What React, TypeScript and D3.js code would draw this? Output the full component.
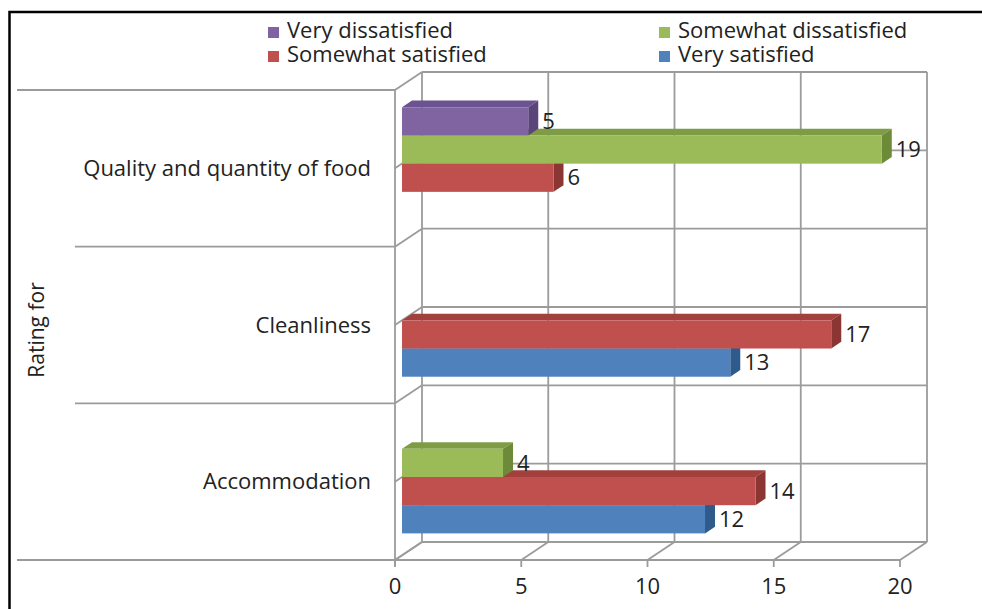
import React from "react";
import * as d3 from "d3";

// Survey results: number of responses per rating, per aspect
const categories = ["Quality and quantity of food", "Cleanliness", "Accommodation"];
const seriesNames = ["Very satisfied", "Somewhat satisfied", "Somewhat dissatisfied", "Very dissatisfied"];
const verySatisfied = [0, 13, 12];
const somewhatSatisfied = [6, 17, 14];
const somewhatDissatisfied = [19, 0, 4];
const veryDissatisfied = [5, 0, 0];
const xTicks = [0, 5, 10, 15, 20];
const axisTitle = "Rating for";

const seriesValues = [verySatisfied, somewhatSatisfied, somewhatDissatisfied, veryDissatisfied];
const faceColors = ["#4F81BD", "#C0504D", "#9BBB59", "#8064A2"];
const sideColors = ["#2E5A8C", "#8C3633", "#6C8A38", "#5A4479"];
const topColors = ["#3E6BA3", "#A2403D", "#7E9C46", "#6B5290"];

const W = 982;
const H = 609;
const FONT = "'Open Sans', 'Liberation Sans', sans-serif";
const FS = 22;
const GRID = "#9b9b9b";

// 3D projection: depth offset of the back wall
const DX = 27;
const DY = -18;
const T1 = 0.26; // bar front face depth
const T2 = 0.63; // bar back face depth

export default function App() {
  const x = d3.scaleLinear().domain([0, 20]).range([395, 900]);
  const y = d3.scaleBand<string>().domain(categories).range([90, 560]).paddingInner(0.28).paddingOuter(0.14);
  const ys = d3
    .scaleBand<string>()
    .domain([...seriesNames].reverse())
    .range([0, y.bandwidth()]);
  const yFull = d3.scaleBand<string>().domain(categories).range([90, 560]);

  const bx = DX * T1;
  const by = DY * T1;
  const sdx = DX * (T2 - T1);
  const sdy = DY * (T2 - T1);

  const catEdges = [90, ...categories.map((c) => (yFull(c) as number) + yFull.bandwidth())];
  const halfLines = categories.map((c) => (yFull(c) as number) + yFull.bandwidth() / 2);

  const bars: React.ReactNode[] = [];
  const labels: React.ReactNode[] = [];
  seriesNames.forEach((s, si) => {
    categories.forEach((c, ci) => {
      const v = seriesValues[si][ci];
      if (!v) return;
      const x0 = x(0) + bx;
      const x1 = x(v) + bx;
      const y0 = (y(c) as number) + (ys(s) as number) + by;
      const h = ys.bandwidth();
      const y1 = y0 + h;
      bars.push(
        <g key={`${s}-${c}`}>
          <path
            d={`M${x0},${y0}L${x0 + sdx},${y0 + sdy}L${x1 + sdx},${y0 + sdy}L${x1},${y0}Z`}
            fill={topColors[si]}
          />
          <path
            d={`M${x1},${y0}L${x1 + sdx},${y0 + sdy}L${x1 + sdx},${y1 + sdy}L${x1},${y1}Z`}
            fill={sideColors[si]}
          />
          <rect x={x0} y={y0} width={x1 - x0} height={h} fill={faceColors[si]} />
        </g>
      );
      labels.push(
        <text key={`l-${s}-${c}`} x={x1 + sdx + 4} y={y0 + h / 2} dy="0.35em" fontSize={FS} fill="#222">
          {v}
        </text>
      );
    });
  });

  const legend = [
    { name: "Very dissatisfied", si: 3, lx: 268, ly: 31 },
    { name: "Somewhat dissatisfied", si: 2, lx: 659, ly: 31 },
    { name: "Somewhat satisfied", si: 1, lx: 268, ly: 55 },
    { name: "Very satisfied", si: 0, lx: 659, ly: 55 },
  ];

  return (
    <svg
      width={W}
      height={H}
      style={{ position: "fixed", left: 0, top: 0, background: "#fff" }}
      fontFamily={FONT}
    >
      <rect x={0} y={0} width={W} height={H} fill="#fff" />
      <rect x={9.5} y={12} width={1100} height={800} fill="none" stroke="#000" strokeWidth={2.5} />

      {/* legend */}
      {legend.map((l) => (
        <g key={l.name}>
          <rect x={l.lx} y={l.ly - 4} width={11} height={11} fill={faceColors[l.si]} />
          <text x={l.lx + 19} y={l.ly} dy="0.33em" fontSize={FS} fill="#222">
            {l.name}
          </text>
        </g>
      ))}

      <g stroke={GRID} strokeWidth={1.8} fill="none">
        {/* back wall */}
        {xTicks.map((t) => (
          <line key={`bv${t}`} x1={x(t) + DX} x2={x(t) + DX} y1={90 + DY} y2={560 + DY} />
        ))}
        {[...catEdges, ...halfLines].map((e, i) => (
          <line key={`bh${i}`} x1={x(0) + DX} x2={x(20) + DX} y1={e + DY} y2={e + DY} />
        ))}
        {/* side wall */}
        <line x1={x(0)} x2={x(0)} y1={90} y2={566} />
        {[...catEdges, ...halfLines].map((e, i) => (
          <line key={`sd${i}`} x1={x(0)} x2={x(0) + DX} y1={e} y2={e + DY} />
        ))}
        {catEdges.map((e, i) => (
          <line key={`cl${i}`} x1={i === 0 || i === catEdges.length - 1 ? 17 : 75} x2={x(0)} y1={e} y2={e} />
        ))}
        {/* floor */}
        <line x1={17} x2={x(20)} y1={560} y2={560} />
        {xTicks.map((t) => (
          <g key={`fl${t}`}>
            <line x1={x(t)} x2={x(t) + DX} y1={560} y2={560 + DY} />
            <line x1={x(t)} x2={x(t)} y1={560} y2={567} />
          </g>
        ))}
      </g>

      {bars}
      {labels}

      {/* category labels */}
      {categories.map((c) => (
        <text
          key={c}
          x={371}
          y={(yFull(c) as number) + yFull.bandwidth() / 2}
          dy="0.35em"
          textAnchor="end"
          fontSize={FS}
          fill="#222"
        >
          {c}
        </text>
      ))}

      {/* value axis */}
      {xTicks.map((t) => (
        <text key={`t${t}`} x={x(t)} y={586} dy="0.35em" textAnchor="middle" fontSize={FS} fill="#222">
          {t}
        </text>
      ))}

      <text transform="translate(37,330) rotate(-90)" textAnchor="middle" dy="0.35em" fontSize={21} fill="#222">
        {axisTitle}
      </text>
    </svg>
  );
}
